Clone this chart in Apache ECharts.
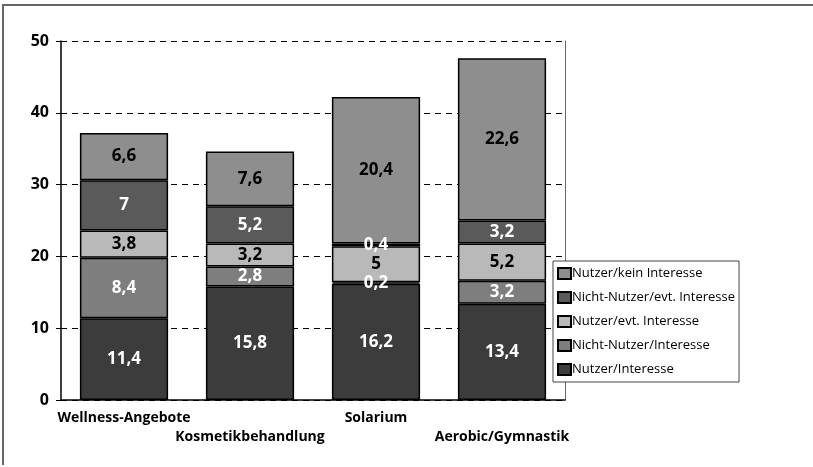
<!DOCTYPE html>
<html>
<head>
<meta charset="utf-8">
<script src="https://cdn.jsdelivr.net/npm/echarts@6/dist/echarts.min.js"></script>
<style>html,body{margin:0;padding:0;background:#fff}#c{width:813px;height:467px}</style>
</head>
<body>
<div id="c"></div>
<script>
const categories = ['Wellness-Angebote', 'Kosmetikbehandlung', 'Solarium', 'Aerobic/Gymnastik'];
const seriesNames = ['Nutzer/Interesse', 'Nicht-Nutzer/Interesse', 'Nutzer/evt. Interesse', 'Nicht-Nutzer/evt. Interesse', 'Nutzer/kein Interesse'];
const nutzerInteresse = [11.4, 15.8, 16.2, 13.4];
const nichtNutzerInteresse = [8.4, 2.8, 0.2, 3.2];
const nutzerEvtInteresse = [3.8, 3.2, 5, 5.2];
const nichtNutzerEvtInteresse = [7, 5.2, 0.4, 3.2];
const nutzerKeinInteresse = [6.6, 7.6, 20.4, 22.6];
const yTicks = [0, 10, 20, 30, 40, 50];

const values = [nutzerInteresse, nichtNutzerInteresse, nutzerEvtInteresse, nichtNutzerEvtInteresse, nutzerKeinInteresse];
const colors = ['#3c3c3c', '#7e7e7e', '#b9b9b9', '#5a5a5a', '#8e8e8e'];
const labelColors = ['#fff', '#fff', '#000', '#fff', '#000'];
const FONT = '"Open Sans", "DejaVu Sans", sans-serif';

const chart = echarts.init(document.getElementById('c'));
chart.setOption({
  animation: false,
  backgroundColor: '#fff',
  textStyle: { fontFamily: FONT },
  grid: { left: 61, right: 248, top: 41, bottom: 67 },
  legend: {
    orient: 'vertical',
    left: 553, top: 261,
    data: seriesNames.slice().reverse(),
    backgroundColor: '#fff',
    borderColor: '#444', borderWidth: 1, borderRadius: 0,
    padding: [6, 4, 6, 4],
    itemWidth: 13, itemHeight: 11, itemGap: 11,
    icon: 'rect',
    textStyle: { fontFamily: FONT, fontSize: 13, color: '#000', padding: [0, 0, 0, -4] },
    z: 10
  },
  xAxis: {
    type: 'category',
    data: categories,
    axisLine: { lineStyle: { color: '#000', width: 1.5 } },
    axisTick: { show: false },
    axisLabel: {
      interval: 0,
      margin: 9,
      fontFamily: FONT, fontWeight: 'bold', fontSize: 14, color: '#000',
      formatter: (v, i) => (i % 2 === 1 ? '\n' + v : v),
      lineHeight: 19
    }
  },
  yAxis: [{
    type: 'value',
    min: 0, max: 50, interval: 10,
    axisLine: { show: true, lineStyle: { color: '#000', width: 1.5 } },
    axisTick: { show: true, length: 5, lineStyle: { color: '#000' } },
    splitLine: { show: true, lineStyle: { color: '#000', type: [6, 5], width: 1 } },
    axisLabel: {
      margin: 12, fontFamily: FONT, fontWeight: 'bold', fontSize: 16, color: '#000',
      formatter: v => (yTicks.includes(v) ? String(v) : '')
    }
  }, {
    type: 'value', position: 'right',
    min: 0, max: 50, interval: 10,
    axisLine: { show: true, lineStyle: { color: '#666', width: 1 } },
    axisTick: { show: false }, axisLabel: { show: false }, splitLine: { show: false }
  }],
  series: seriesNames.map((name, i) => ({
    name,
    type: 'bar',
    stack: 'total',
    barWidth: '70%',
    data: values[i],
    itemStyle: { color: colors[i], borderColor: '#000', borderWidth: 1.5 },
    label: {
      show: true,
      position: 'inside',
      formatter: p => String(p.value).replace('.', ','),
      fontFamily: FONT, fontWeight: 'bold', fontSize: 17,
      color: labelColors[i]
    }
  })),
  graphic: [{
    type: 'polyline',
    shape: { points: [[3, 465], [3, 5], [813, 5]] },
    style: { stroke: '#666', lineWidth: 2, fill: null },
    silent: true
  }]
});
</script>
</body>
</html>
